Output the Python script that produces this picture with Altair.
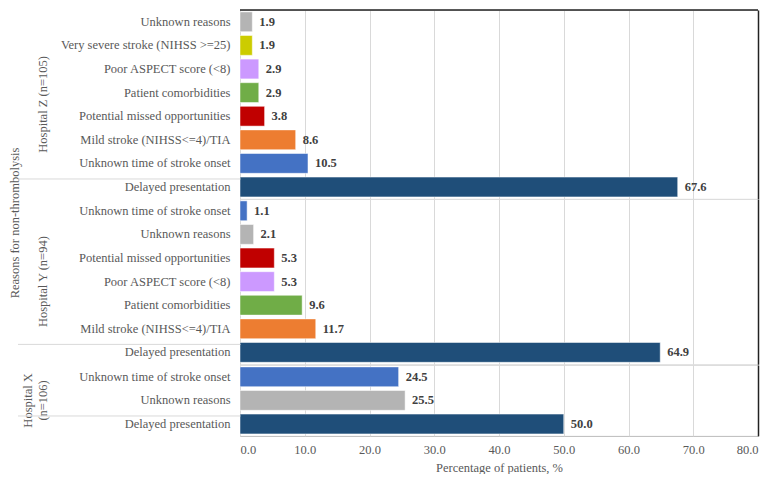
import altair as alt
import pandas as pd

hospitals = ["Hospital Z (n=105)"] * 8 + ["Hospital Y (n=94)"] * 7 + ["Hospital X|(n=106)"] * 3
reasons = [
    "Unknown reasons", "Very severe stroke (NIHSS >=25)", "Poor ASPECT score (<8)",
    "Patient comorbidities", "Potential missed opportunities", "Mild stroke (NIHSS<=4)/TIA",
    "Unknown time of stroke onset", "Delayed presentation",
    "Unknown time of stroke onset", "Unknown reasons", "Potential missed opportunities",
    "Poor ASPECT score (<8)", "Patient comorbidities", "Mild stroke (NIHSS<=4)/TIA",
    "Delayed presentation",
    "Unknown time of stroke onset", "Unknown reasons", "Delayed presentation",
]
values = [1.9, 1.9, 2.9, 2.9, 3.8, 8.6, 10.5, 67.6,
          1.1, 2.1, 5.3, 5.3, 9.6, 11.7, 64.9,
          24.5, 25.5, 50.0]
hospital_order = ["Hospital Z (n=105)", "Hospital Y (n=94)", "Hospital X|(n=106)"]

color_domain = [
    "Delayed presentation", "Unknown time of stroke onset", "Mild stroke (NIHSS<=4)/TIA",
    "Potential missed opportunities", "Patient comorbidities", "Poor ASPECT score (<8)",
    "Very severe stroke (NIHSS >=25)", "Unknown reasons",
]
color_range = ["#1f4e79", "#4472c4", "#ed7d31", "#c00000", "#70ad47", "#cc99ff", "#cccc00", "#b4b4b4"]

df = pd.DataFrame({
    "hospital": hospitals,
    "reason": reasons,
    "value": values,
    "order": list(range(len(values))),
})
df["key"] = [f"{i:02d}|{r}" for i, r in zip(df["order"], df["reason"])]
df["first"] = df.groupby("hospital")["order"].transform("min") == df["order"]
df["last"] = df.groupby("hospital")["order"].transform("max") == df["order"]

FONT = "Liberation Serif"
FS = 12.5
GRAY = "#595959"
LIGHT = "#d9d9d9"

STEP = 23.6
pin, pout = 0.16, 0.08
edge_px = pout * STEP

y_left = alt.Y(
    "key:N",
    sort="ascending",
    scale=alt.Scale(paddingInner=pin, paddingOuter=pout),
    axis=alt.Axis(title=None, ticks=False, domainColor=LIGHT, labelColor=GRAY,
                  labelFont=FONT, labelFontSize=FS, labelPadding=10, labelLimit=300,
                  labelExpr="substring(datum.value, 3)"),
)
x_enc = alt.X(
    "value:Q",
    scale=alt.Scale(domain=[0, 80], nice=False),
    axis=alt.Axis(title="Percentage of patients, %", values=list(range(0, 81, 10)),
                  format=".1f", ticks=False, grid=True, gridColor=LIGHT,
                  domainColor=GRAY, labelColor=GRAY, labelFont=FONT, labelFontSize=FS,
                  labelPadding=7, titleFont=FONT, titleFontSize=FS, titleFontWeight="normal",
                  titleColor=GRAY, titlePadding=6),
)

base = alt.Chart()

bars = base.mark_bar(stroke="white", strokeWidth=0.5).encode(
    y=y_left,
    x=x_enc,
    color=alt.Color("reason:N", scale=alt.Scale(domain=color_domain, range=color_range), legend=None),
)

labels = base.mark_text(align="left", dx=7, font=FONT, fontSize=FS, fontWeight="bold",
                        color="#404040").encode(
    y=alt.Y("key:N", sort="ascending", axis=None),
    x="value:Q",
    text=alt.Text("value:Q", format=".1f"),
)

sep = base.mark_rule(color=LIGHT, strokeWidth=1).transform_filter("datum.last").encode(
    y=alt.Y("key:N", sort="ascending", bandPosition=1,
            axis=alt.Axis(orient="right", labels=False, ticks=False, title=None,
                          domainColor="#222222", domainWidth=1.5, grid=False)),
    yOffset=alt.value(edge_px),
    x=alt.value(-222),
    x2=alt.value(0.5),
)

top = base.mark_rule(color="#222222", strokeWidth=1.5).transform_filter(
    "datum.first && datum.hospital == 'Hospital Z (n=105)'").encode(
    y=alt.Y("key:N", sort="ascending", bandPosition=0, axis=None),
    yOffset=alt.value(-edge_px),
    x=alt.datum(0),
    x2=alt.datum(80),
)

layer = alt.layer(bars, labels, top, sep).resolve_axis(y="independent")

chart = layer.properties(
    width=518,
    height=alt.Step(STEP),
).facet(
    data=df,
    row=alt.Row(
        "hospital:N",
        sort=hospital_order,
        header=alt.Header(
            labelOrient="left", labelAngle=-90, labelFont=FONT, labelFontSize=FS,
            labelColor=GRAY, labelPadding=185,
            labelExpr="split(datum.value, '|')",
            titleOrient="left", titleAngle=-90,
            titleFont=FONT, titleFontSize=FS, titleFontWeight="normal", titleColor=GRAY,
            titlePadding=-22,
        ),
        title="Reasons for non-thrombolysis",
    ),
    spacing=0,
    bounds="flush",
).resolve_scale(y="independent").configure_view(stroke=None).configure(
    padding={"left": 0, "top": 0, "right": 0, "bottom": 0}
)

chart.save("out.html", embed_options={"renderer": "svg", "actions": False})
